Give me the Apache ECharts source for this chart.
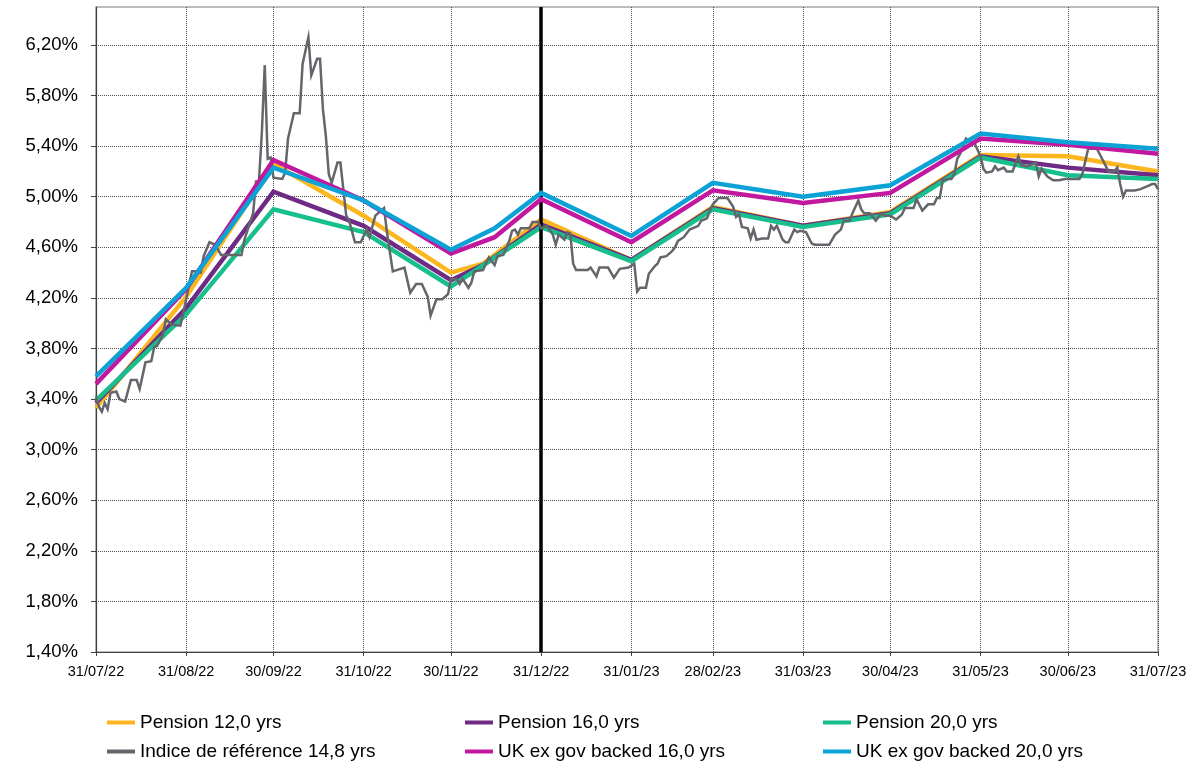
<!DOCTYPE html>
<html>
<head>
<meta charset="utf-8">
<script src="https://cdn.jsdelivr.net/npm/echarts@6/dist/echarts.min.js"></script>
<style>
html,body{margin:0;padding:0;background:#fff;}
#chart{width:1201px;height:762px;}
</style>
</head>
<body>
<div id="chart"></div>
<script>
// x values are days since 31/07/22
const tickDays = [0,31,61,92,122,153,184,212,243,273,304,334,365];
const tickLabels = ['31/07/22','31/08/22','30/09/22','31/10/22','30/11/22','31/12/22','31/01/23','28/02/23','31/03/23','30/04/23','31/05/23','30/06/23','31/07/23'];
const seriesNames = ['Pension 12,0 yrs','Pension 16,0 yrs','Pension 20,0 yrs','Indice de référence 14,8 yrs','UK ex gov backed 16,0 yrs','UK ex gov backed 20,0 yrs'];
const colors = ['#FDB71E','#6E2A84','#17BF8C','#63666A','#C2189F','#0BA2D6'];

const pension12 = [[0,3.33],[31,4.21],[61,5.26],[92,4.85],[122,4.40],[133,4.47],[153,4.82],[184,4.50],[212,4.92],[243,4.77],[273,4.88],[304,5.33],[334,5.32],[365,5.20]];
const pension16 = [[0,3.37],[31,4.12],[61,5.04],[92,4.77],[122,4.34],[133,4.46],[153,4.78],[184,4.50],[212,4.91],[243,4.77],[273,4.87],[304,5.32],[334,5.23],[365,5.17]];
const pension20 = [[0,3.39],[31,4.07],[61,4.90],[92,4.72],[122,4.29],[153,4.76],[184,4.49],[212,4.90],[243,4.76],[273,4.86],[304,5.31],[334,5.17],[365,5.14]];
const ukGov16 = [[0,3.52],[31,4.27],[61,5.29],[92,4.97],[122,4.55],[137,4.68],[153,4.98],[184,4.64],[212,5.05],[243,4.95],[273,5.03],[304,5.46],[334,5.41],[365,5.34]];
const ukGov20 = [[0,3.58],[31,4.28],[61,5.23],[92,4.97],[122,4.58],[137,4.75],[153,5.03],[184,4.69],[212,5.11],[243,5.00],[273,5.09],[304,5.50],[334,5.43],[365,5.38]];
const benchmark = [[0,3.42],[1,3.34],[2,3.30],[3,3.37],[4,3.32],[5,3.45],[7,3.46],[8,3.40],[10,3.38],[12,3.55],[14,3.55],[15,3.48],[17,3.69],[19,3.70],[20,3.81],[21,3.82],[23,3.91],[24,4.03],[26,3.99],[29,3.98],[31,4.19],[32,4.31],[33,4.41],[35,4.41],[36,4.40],[37,4.53],[39,4.64],[41,4.62],[43,4.54],[50,4.54],[51,4.66],[54,4.87],[55,5.12],[56,5.12],[57,5.51],[58,6.04],[59,5.30],[60,5.31],[61,5.15],[64,5.14],[65,5.19],[66,5.46],[68,5.66],[70,5.66],[71,6.05],[73,6.26],[74,5.96],[76,6.09],[77,6.09],[78,5.69],[79,5.48],[80,5.18],[81,5.11],[83,5.27],[84,5.27],[86,4.85],[87,4.81],[89,4.64],[91,4.64],[93,4.74],[94,4.68],[96,4.85],[99,4.91],[100,4.72],[102,4.41],[106,4.44],[108,4.24],[110,4.31],[112,4.31],[114,4.21],[115,4.06],[117,4.19],[119,4.19],[121,4.23],[122,4.35],[124,4.35],[125,4.31],[126,4.35],[128,4.28],[129,4.32],[130,4.41],[133,4.42],[135,4.52],[137,4.46],[138,4.53],[140,4.54],[142,4.65],[143,4.73],[144,4.74],[145,4.70],[146,4.75],[149,4.75],[150,4.80],[152,4.80],[153,4.75],[155,4.77],[157,4.70],[158,4.62],[159,4.70],[161,4.66],[162,4.72],[163,4.71],[164,4.47],[165,4.42],[169,4.42],[170,4.44],[172,4.37],[173,4.44],[176,4.44],[178,4.36],[180,4.43],[183,4.44],[185,4.47],[186,4.25],[187,4.28],[189,4.28],[190,4.39],[192,4.45],[193,4.47],[194,4.52],[196,4.53],[198,4.57],[199,4.60],[200,4.65],[202,4.68],[204,4.74],[206,4.76],[207,4.77],[208,4.81],[210,4.83],[211,4.89],[212,4.94],[214,4.99],[217,4.99],[219,4.92],[220,4.84],[221,4.86],[222,4.76],[224,4.75],[225,4.67],[226,4.74],[227,4.66],[229,4.67],[231,4.67],[232,4.77],[233,4.74],[234,4.77],[236,4.66],[237,4.64],[238,4.64],[240,4.74],[241,4.72],[242,4.73],[244,4.72],[246,4.63],[247,4.62],[252,4.62],[254,4.70],[256,4.74],[257,4.81],[259,4.81],[260,4.87],[262,4.97],[263,4.90],[264,4.87],[266,4.87],[268,4.81],[270,4.87],[271,4.85],[273,4.85],[275,4.82],[277,4.86],[278,4.91],[281,4.91],[282,4.98],[284,4.89],[286,4.94],[288,4.94],[289,4.99],[290,4.99],[291,5.13],[293,5.14],[294,5.14],[295,5.18],[296,5.30],[297,5.34],[298,5.39],[299,5.46],[302,5.42],[304,5.32],[305,5.22],[306,5.19],[308,5.20],[309,5.24],[310,5.21],[312,5.23],[313,5.20],[315,5.20],[317,5.32],[318,5.25],[320,5.24],[323,5.27],[324,5.16],[325,5.22],[327,5.16],[329,5.13],[331,5.13],[333,5.14],[338,5.14],[339,5.18],[341,5.38],[344,5.38],[346,5.29],[348,5.20],[350,5.20],[351,5.23],[352,5.10],[353,5.00],[354,5.05],[357,5.05],[359,5.06],[360,5.07],[362,5.09],[363,5.10],[364,5.10],[365,5.06]];
const yearEndDay = 153;

const seriesData = [pension12, pension16, pension20, benchmark, ukGov16, ukGov20];
const FONT = '"Liberation Sans", Arial, sans-serif';

const legendLefts = [107, 465, 823];
const legendTops = [713, 742];
const legends = seriesNames.map((n, i) => ({
  data: [n],
  left: legendLefts[i % 3],
  top: legendTops[Math.floor(i / 3)],
  padding: 0,
  icon: 'rect',
  itemWidth: 28,
  itemHeight: 4,
  selectedMode: false,
  textStyle: { fontFamily: FONT, fontSize: 19, color: '#000' }
}));

const series = seriesData.map((d, i) => {
  const s = {
    name: seriesNames[i],
    type: 'line',
    data: d,
    symbol: 'none',
    color: colors[i],
    lineStyle: { color: colors[i], width: i === 3 ? 2.5 : 4.5, join: 'miter' },
    z: 2 + i,
    animation: false
  };
  if (i === 5) {
    s.markLine = {
      silent: true,
      symbol: ['none', 'none'],
      label: { show: false },
      lineStyle: { color: '#000', width: 3.5, type: 'solid' },
      data: [{ xAxis: yearEndDay }],
      animation: false
    };
  }
  return s;
});

const chart = echarts.init(document.getElementById('chart'), null, { renderer: 'canvas' });
chart.setOption({
  backgroundColor: '#fff',
  animation: false,
  grid: { left: 96, right: 43, top: 7, bottom: 110, show: true, borderColor: '#a6a6a6', borderWidth: 1.5, containLabel: false },
  legend: legends,
  xAxis: {
    type: 'value',
    min: 0,
    max: 365,
    axisLine: { show: true, lineStyle: { color: '#404040', width: 1.2 } },
    axisTick: { show: true, length: 4, customValues: tickDays, lineStyle: { color: '#404040' } },
    axisLabel: {
      customValues: tickDays,
      fontFamily: FONT, fontSize: 14.5, color: '#000', margin: 12,
      formatter: (v) => { const k = tickDays.indexOf(Math.round(v)); return k >= 0 ? tickLabels[k] : ''; }
    },
    splitLine: { show: true, lineStyle: { color: '#505050', width: 1, type: 'dotted' } }
  },
  yAxis: {
    type: 'value',
    min: 1.4,
    max: 6.5,
    interval: 0.4,
    axisLine: { show: true, lineStyle: { color: '#404040', width: 1.2 } },
    axisTick: { show: true, length: 5, lineStyle: { color: '#404040' } },
    axisLabel: {
      fontFamily: FONT, fontSize: 18.5, color: '#000', margin: 18, showMaxLabel: false,
      formatter: (v) => (v > 6.3 ? '' : v.toFixed(2).replace('.', ',') + '%')
    },
    splitLine: { show: true, showMaxLine: false, lineStyle: { color: '#505050', width: 1, type: 'dotted' } }
  },
  series: series
});
</script>
</body>
</html>
